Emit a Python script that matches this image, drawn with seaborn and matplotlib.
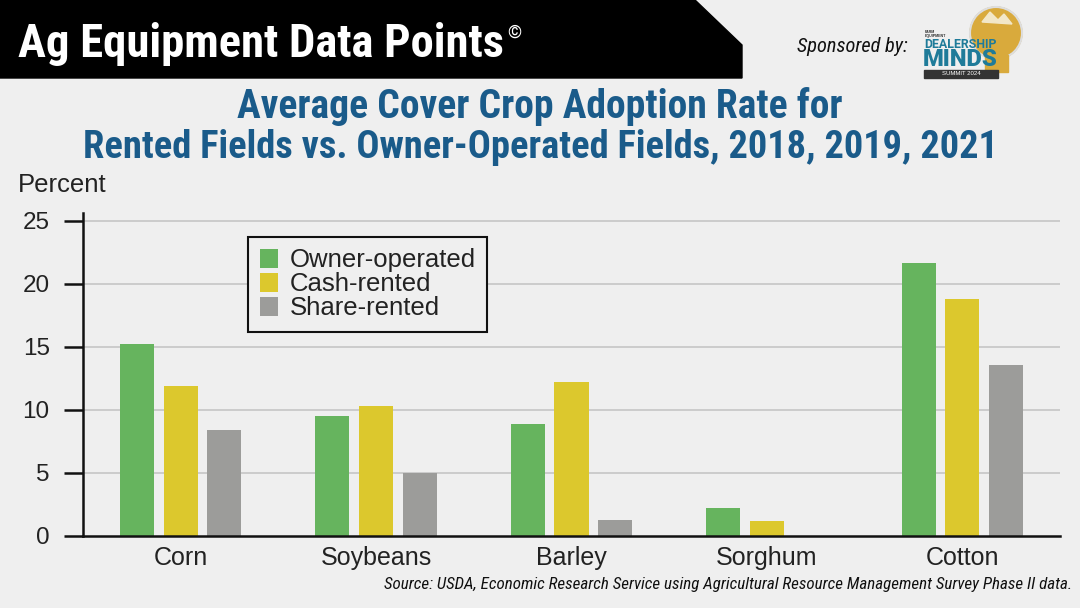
import numpy as np
import pandas as pd
import matplotlib
matplotlib.use("Agg")
import matplotlib.pyplot as plt
import matplotlib.patches as mpatches
import seaborn as sns

# chart data (percent)
crops = ["Corn", "Soybeans", "Barley", "Sorghum", "Cotton"]
owner_operated = [15.2, 9.5, 8.9, 2.2, 21.7]
cash_rented = [11.9, 10.3, 12.2, 1.2, 18.8]
share_rented = [8.4, 5.0, 1.3, np.nan, 13.6]
tenure = ["Owner-operated", "Cash-rented", "Share-rented"]
y_ticks = [0, 5, 10, 15, 20, 25]

colors = ["#66b45e", "#dcc82d", "#9c9c9a"]
bg = "#efefef"
narrow = ["Roboto Condensed", "Roboto", "DejaVu Sans"]
wide = ["Roboto", "DejaVu Sans"]

df = pd.DataFrame({
    "crop": crops * 3,
    "tenure": [t for t in tenure for _ in crops],
    "pct": owner_operated + cash_rented + share_rented,
})

sns.set_theme(style="white")
plt.rcParams["font.family"] = ["Liberation Sans", "DejaVu Sans"]

W, H = 1080, 608
fig = plt.figure(figsize=(10.8, 6.08), dpi=100, facecolor=bg)

def fx(px):
    return px / W

def fy(py):
    return 1 - py / H

# texts whose width is fitted to the reference after a first draw
to_fit = []

# header banner
banner = mpatches.Polygon([(fx(0), fy(0)), (fx(695), fy(0)), (fx(742), fy(45)),
                           (fx(742), fy(78)), (fx(0), fy(78))],
                          closed=True, transform=fig.transFigure, color="black", zorder=1)
fig.patches.append(banner)
t = fig.text(fx(18), fy(44), "Ag Equipment Data Points", color="white", fontsize=28,
             fontweight="bold", family=narrow, va="center", ha="left")
to_fit.append((t, 487))
fig.text(fx(507), fy(33), "©", color="white", fontsize=13, family=narrow, va="center", ha="left")
t = fig.text(fx(908), fy(47), "Sponsored by:", color="#111111", fontsize=15, style="italic",
             family=narrow, va="center", ha="right")
to_fit.append((t, 111))

# simplified sponsor logo
lg = fig.add_axes([fx(915), fy(80), fx(120), 77 / H])
lg.set_xlim(915, 1035)
lg.set_ylim(80, 3)
lg.axis("off")
lg.add_patch(mpatches.Circle((996, 33), 26, color="#d9aa3c", zorder=1))
lg.add_patch(mpatches.Circle((996, 33), 26, fill=False, ec="#dddddd", lw=1.5, zorder=1))
lg.add_patch(mpatches.Rectangle((985, 55), 23, 17, color="#d9aa3c", zorder=1))
lg.add_patch(mpatches.Polygon([(982, 22), (990, 12), (998, 20), (1004, 14), (1012, 24)],
                              closed=True, color="#f2e7c8", zorder=2))
lg.text(925, 34, "FARM\nEQUIPMENT", fontsize=2.6, fontweight="bold", color="#333333",
        va="center", linespacing=0.9)
t = lg.text(924, 44, "DEALERSHIP", fontsize=8, fontweight="bold", color="#1f7b99",
            family=wide, va="center", zorder=3)
to_fit.append((t, 73))
t = lg.text(923, 60, "MINDS", fontsize=14, fontweight="black", color="#1f7b99",
            family=wide, va="center", zorder=3)
to_fit.append((t, 75))
lg.add_patch(mpatches.Rectangle((924, 70), 74, 7.5, color="#333333", zorder=3))
lg.text(961, 73.8, "SUMMIT 2024", fontsize=4.3, color="white", ha="center", va="center", zorder=4)

# title
title_color = "#1a5b8a"
t = fig.text(0.5, fy(106), "Average Cover Crop Adoption Rate for", color=title_color,
             fontsize=27, fontweight="bold", family=narrow, ha="center", va="center")
to_fit.append((t, 606))
t = fig.text(0.5, fy(148), "Rented Fields vs. Owner-Operated Fields, 2018, 2019, 2021",
             color=title_color, fontsize=27, fontweight="bold", family=narrow,
             ha="center", va="center")
to_fit.append((t, 915))

fig.text(fx(18), fy(185), "Percent", fontsize=18.5, color="#222222", ha="left", va="center")

# main chart
ax = fig.add_axes([fx(83), fy(536), fx(1060 - 83), (536 - 213) / H])
ax.set_facecolor("none")
sns.barplot(data=df, x="crop", y="pct", hue="tenure", order=crops, hue_order=tenure,
            palette=colors, width=0.67, gap=0.22, saturation=1, linewidth=0,
            ax=ax, zorder=3)

ax.set_xlim(-0.5, 4.5)
ax.set_ylim(0, 25.63)
ax.set_yticks(y_ticks)
ax.set_xlabel("")
ax.set_ylabel("")
for y in y_ticks[1:]:
    ax.axhline(y, color="#c9c9c9", lw=1.3, zorder=1)

for s in ["top", "right"]:
    ax.spines[s].set_visible(False)
for s in ["left", "bottom"]:
    ax.spines[s].set_color("#111111")
    ax.spines[s].set_linewidth(1.8)
    ax.spines[s].set_zorder(5)

ax.tick_params(axis="y", length=14, width=1.8, color="#111111", direction="out",
               labelsize=17.5, labelcolor="#222222", pad=10, left=True)
ax.tick_params(axis="x", length=0, labelsize=18, labelcolor="#222222", pad=7)

leg = ax.legend(loc="upper left", bbox_to_anchor=(0.169, 0.926), borderaxespad=0,
                fontsize=18.5, frameon=True, fancybox=False, handlelength=0.72,
                handleheight=0.72, handletextpad=0.45, labelspacing=0.0,
                borderpad=0.45, framealpha=1)
leg.get_frame().set_edgecolor("#111111")
leg.get_frame().set_linewidth(1.5)
leg.get_frame().set_facecolor(bg)
for t in leg.get_texts():
    t.set_color("#222222")

t = fig.text(fx(1072), fy(585), "Source: USDA, Economic Research Service using Agricultural "
             "Resource Management Survey Phase II data.", fontsize=12, style="italic",
             family=narrow, color="#111111", ha="right", va="center")
to_fit.append((t, 689))

# scale font sizes so text widths match the reference
fig.canvas.draw()
renderer = fig.canvas.get_renderer()
for txt, target in to_fit:
    w = txt.get_window_extent(renderer).width
    txt.set_fontsize(txt.get_fontsize() * target / w)

fig.savefig("out.png", dpi=100, facecolor=bg)
